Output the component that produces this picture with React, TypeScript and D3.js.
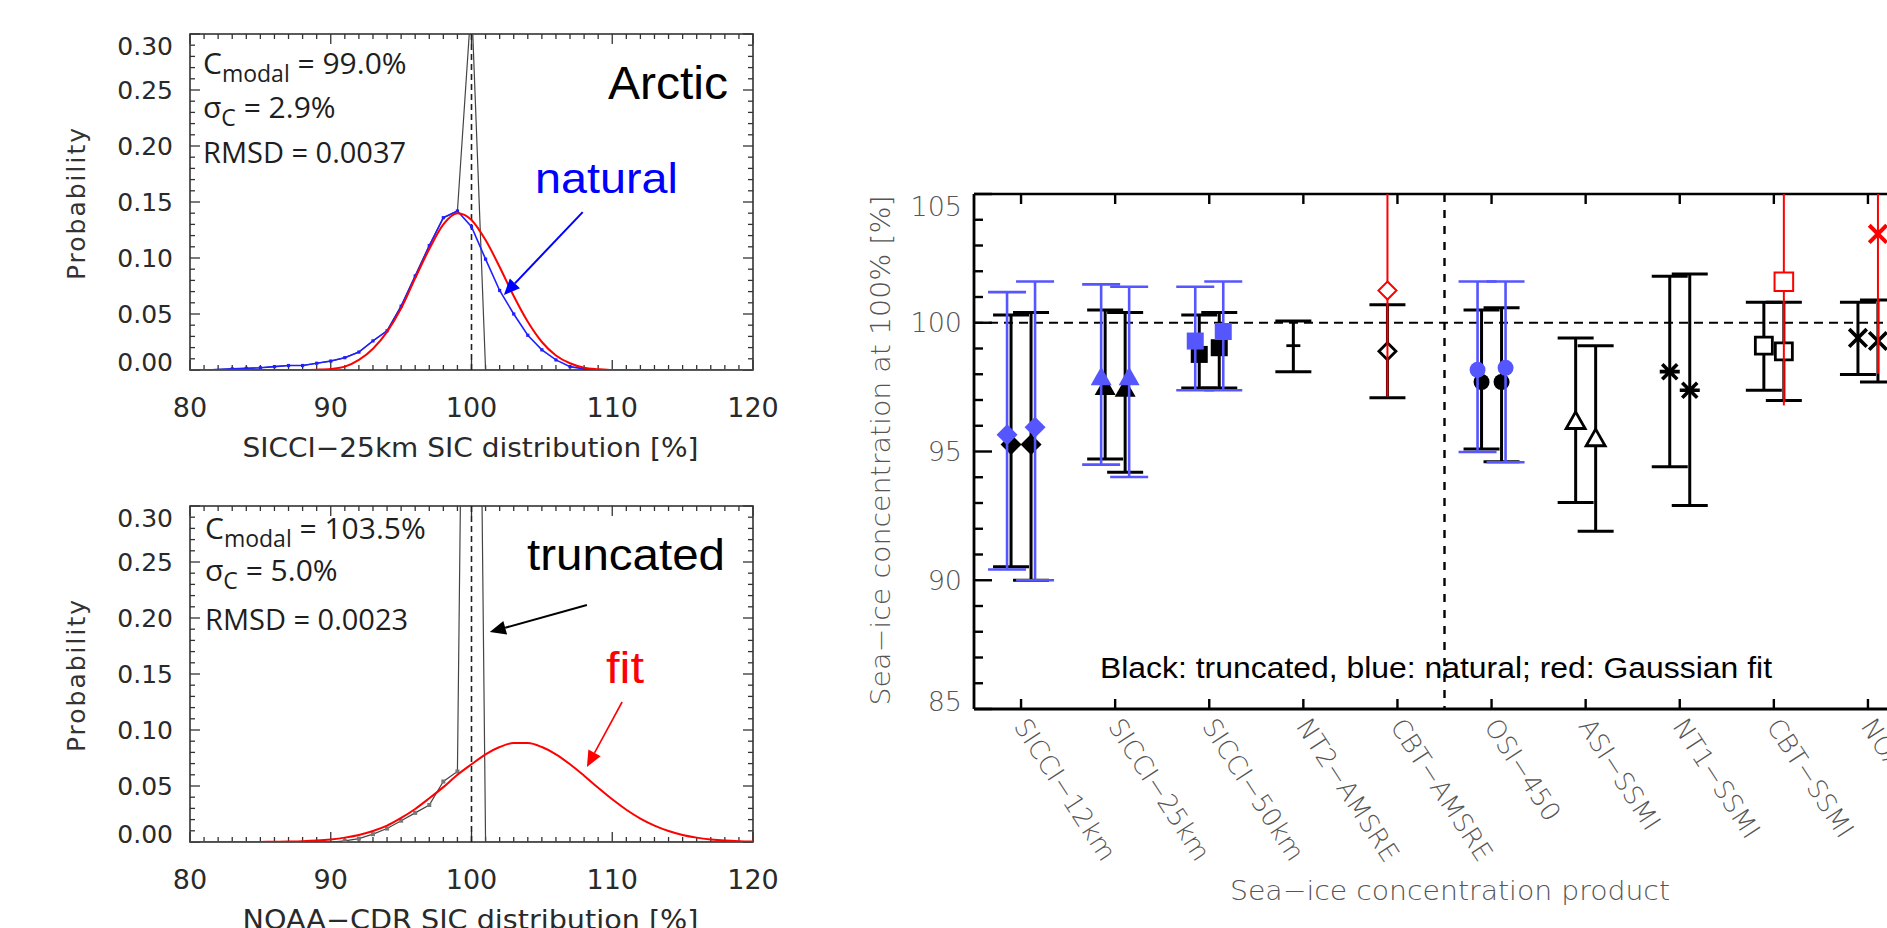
import React from 'react';
import * as d3 from 'd3';

// ---------------- Left panels: SIC distributions ----------------
const distX = [80, 81, 82, 83, 84, 85, 86, 87, 88, 89, 90, 91, 92, 93, 94, 95, 96, 97, 98, 99, 100,
  101, 102, 103, 104, 105, 106, 107, 108, 109, 110, 111, 112, 113, 114, 115, 116, 117, 118, 119, 120];

const arcticNatural = [0, 0, 0.0005, 0.001, 0.0015, 0.002, 0.003, 0.004, 0.004, 0.006,
  0.008, 0.011, 0.016, 0.026, 0.035, 0.057, 0.084, 0.111, 0.136, 0.142,
  0.128, 0.099, 0.071, 0.050, 0.031, 0.018, 0.009, 0.003, 0.001, 0,
  0, 0, 0, 0, 0, 0, 0, 0, 0, 0, 0];
const arcticFit = [0, 0, 0, 0, 0, 0, 0, 0, 0, 0.0003,
  0.001, 0.003, 0.009, 0.019, 0.034, 0.055, 0.082, 0.108, 0.130, 0.140,
  0.134, 0.116, 0.092, 0.066, 0.043, 0.025, 0.013, 0.006, 0.002, 0.0007,
  0, 0, 0, 0, 0, 0, 0, 0, 0, 0, 0];
const arcticTruncated = [0, 0, 0.0005, 0.001, 0.0015, 0.002, 0.003, 0.004, 0.004, 0.006,
  0.008, 0.011, 0.016, 0.026, 0.035, 0.057, 0.084, 0.111, 0.136, 0.142,
  0.33, 0, 0, 0, 0, 0, 0, 0, 0, 0,
  0, 0, 0, 0, 0, 0, 0, 0, 0, 0, 0];

const noaaFit = [0, 0, 0, 0, 0, 0.0001, 0.0002, 0.0004, 0.0007, 0.0013,
  0.0023, 0.0039, 0.0063, 0.0098, 0.0146, 0.0215, 0.0295, 0.039, 0.049, 0.060,
  0.0694, 0.0783, 0.0848, 0.0883, 0.0883, 0.0848, 0.0783, 0.0694, 0.0592, 0.0484,
  0.0381, 0.0288, 0.0209, 0.0146, 0.0098, 0.0063, 0.0039, 0.0023, 0.0013, 0.0007, 0.0004];
const noaaTruncated = [0, 0, 0, 0, 0, 0, 0, 0, 0, 0,
  0, 0.001, 0.003, 0.007, 0.012, 0.019, 0.026, 0.033, 0.054, 0.063,
  1.2, 0, 0, 0, 0, 0, 0, 0, 0, 0,
  0, 0, 0, 0, 0, 0, 0, 0, 0, 0, 0];

const xMajor = [80, 90, 100, 110, 120];
const yMajor = [0, 0.05, 0.10, 0.15, 0.20, 0.25, 0.30];
const yMajorLabels = ['0.00', '0.05', '0.10', '0.15', '0.20', '0.25', '0.30'];

// ---------------- Right panel: products ----------------
const products = ['SICCI−12km', 'SICCI−25km', 'SICCI−50km', 'NT2−AMSRE', 'CBT−AMSRE',
  'OSI−450', 'ASI−SSMI', 'NT1−SSMI', 'CBT−SSMI', 'NOAA−CDR'];
const productSymbols = ['diamond', 'triangle', 'square', 'dash', 'diamond',
  'circle', 'triangle', 'asterisk', 'square', 'cross'];
const productFilled = [true, true, true, false, false, true, false, false, false, false];

type N = number | null;
const blackLeftMid: N[] = [95.27, 97.50, 98.77, 99.11, 98.89, 97.70, 96.17, 98.10, 99.11, 99.41];
const blackLeftLow: N[] = [90.52, 94.71, 97.47, 98.10, 97.09, 95.10, 93.02, 94.41, 97.38, 97.99];
const blackLeftHigh: N[] = [100.30, 100.50, 100.30, 100.07, 100.70, 100.50, 99.41, 101.81, 100.80, 100.80];

const blackRightMid: N[] = [95.27, 97.43, 99.03, null, null, 97.70, 95.50, 97.38, 98.89, 99.29];
const blackRightLow: N[] = [90.00, 94.19, 97.47, null, null, 94.60, 91.90, 92.90, 96.98, 97.70];
const blackRightHigh: N[] = [100.40, 100.40, 100.40, null, null, 100.58, 99.11, 101.89, 100.80, 100.88];

const blueLeftMid: N[] = [95.65, 97.88, 99.29, null, null, 98.17, null, null, null, null];
const blueLeftLow: N[] = [90.42, 94.49, 97.38, null, null, 94.98, null, null, null, null];
const blueLeftHigh: N[] = [101.19, 101.49, 101.40, null, null, 101.60, null, null, null, null];

const blueRightMid: N[] = [95.94, 97.88, 99.66, null, null, 98.25, null, null, null, null];
const blueRightLow: N[] = [90.00, 94.01, 97.38, null, null, 94.58, null, null, null, null];
const blueRightHigh: N[] = [101.60, 101.40, 101.60, null, null, 101.60, null, null, null, null];

const redMid: N[] = [null, null, null, null, 101.25, null, null, null, 101.59, 103.45];
const redLow: N[] = [null, null, null, null, 97.13, null, null, null, 96.79, 98.02];
const redHigh: N[] = [null, null, null, null, 105.4, null, null, null, 106.4, 108.9];
const redSide = [0, 0, 0, 0, -1, 0, 0, 0, 1, 1];

const rightYTicks = [85, 90, 95, 100, 105];

const BLUE = '#5656ff';
const RED = '#ff0000';

function markerPath(type: string, s: number): string {
  switch (type) {
    case 'diamond': return `M0,${-s}L${s},0L0,${s}L${-s},0Z`;
    case 'triangle': return `M0,${-s}L${s},${s * 0.75}L${-s},${s * 0.75}Z`;
    case 'square': return `M${-s},${-s}H${s}V${s}H${-s}Z`;
    case 'asterisk': return `M${-s},0H${s}M${-s * 0.75},${-s * 0.75}L${s * 0.75},${s * 0.75}M${-s * 0.75},${s * 0.75}L${s * 0.75},${-s * 0.75}`;
    case 'cross': return `M${-s},${-s}L${s},${s}M${-s},${s}L${s},${-s}`;
    case 'dash': return `M${-s},0H${s}`;
    default: return '';
  }
}

function Marker({ type, filled, x, y, color, s, sw }: any) {
  if (type === 'circle') {
    return <circle cx={x} cy={y} r={s} fill={filled ? color : 'white'} stroke={color} strokeWidth={filled ? 0 : sw} />;
  }
  const open = !filled || type === 'asterisk' || type === 'cross' || type === 'dash';
  return (
    <path d={markerPath(type, s)} transform={`translate(${x},${y})`}
      fill={open ? (type === 'asterisk' || type === 'cross' || type === 'dash' ? 'none' : 'white') : color}
      stroke={color} strokeWidth={filled ? 0 : sw} strokeLinejoin="miter" />
  );
}

function Arrow({ x1, y1, x2, y2, color, w }: any) {
  const ang = Math.atan2(y2 - y1, x2 - x1);
  const L = 16, hw = 7;
  const bx = x2 - L * Math.cos(ang), by = y2 - L * Math.sin(ang);
  const p = [
    [x2, y2],
    [bx + hw * Math.sin(ang), by - hw * Math.cos(ang)],
    [bx - hw * Math.sin(ang), by + hw * Math.cos(ang)],
  ];
  return (
    <g>
      <line x1={x1} y1={y1} x2={bx} y2={by} stroke={color} strokeWidth={w} />
      <polygon points={p.map((q) => q.join(',')).join(' ')} fill={color} />
    </g>
  );
}

const LEFT = 190, RIGHT = 753, PH = 336;

function DistPanel({ top, id, curves, xTitle, children }: any) {
  const bottom = top + PH;
  const x = d3.scaleLinear().domain([80, 120]).range([LEFT, RIGHT]);
  const y = d3.scaleLinear().domain([0, 0.30]).range([bottom, top]);
  const minorX = d3.range(80, 121, 1);
  const minorY = d3.range(0, 0.3001, 0.01);
  const lin = d3.line<number>().x((_, i) => x(distX[i])).y((d) => y(d));
  const smooth = d3.line<number>().x((_, i) => x(distX[i])).y((d) => y(d)).curve(d3.curveMonotoneX);
  const axisColor = '#333';
  return (
    <g>
      <defs>
        <clipPath id={id}>
          <rect x={LEFT} y={top} width={RIGHT - LEFT} height={PH} />
        </clipPath>
      </defs>
      {minorX.map((v) => {
        const major = v % 10 === 0;
        const l = major ? 10 : 5;
        return (
          <g key={'mx' + v} stroke={axisColor} strokeWidth={1.3}>
            <line x1={x(v)} x2={x(v)} y1={bottom} y2={bottom - l} />
            <line x1={x(v)} x2={x(v)} y1={top} y2={top + l} />
          </g>
        );
      })}
      {minorY.map((v, i) => {
        const major = i % 5 === 0;
        const l = major ? 10 : 5;
        return (
          <g key={'my' + i} stroke={axisColor} strokeWidth={1.3}>
            <line x1={LEFT} x2={LEFT + l} y1={y(v)} y2={y(v)} />
            <line x1={RIGHT} x2={RIGHT - l} y1={y(v)} y2={y(v)} />
          </g>
        );
      })}
      <rect x={LEFT} y={top} width={RIGHT - LEFT} height={PH} fill="none" stroke={axisColor} strokeWidth={1.6} />
      {yMajor.map((v, i) => (
        <text key={'yl' + i} x={173} y={y(v) + (i === 0 ? -8 : i === yMajor.length - 1 ? 12 : 0)}
          textAnchor="end" dominantBaseline="central" fontFamily="DejaVu Sans" fontSize={25} fill="#2a2a2a">
          {yMajorLabels[i]}
        </text>
      ))}
      {xMajor.map((v) => (
        <text key={'xl' + v} x={x(v)} y={bottom + 37} textAnchor="middle" dominantBaseline="central"
          fontFamily="DejaVu Sans" fontSize={27} fill="#2a2a2a">{v}</text>
      ))}
      <text x={(LEFT + RIGHT) / 2 - 1} y={bottom + 87} textAnchor="middle" fontFamily="DejaVu Sans" fontSize={27}
        fill="#2a2a2a" textLength={456} lengthAdjust="spacingAndGlyphs">{xTitle}</text>
      <text transform={`translate(76,${top + 170}) rotate(-90)`} textAnchor="middle" dominantBaseline="central"
        fontFamily="DejaVu Sans" fontSize={25} fill="#333" textLength={152} lengthAdjust="spacing">Probability</text>
      <g clipPath={`url(#${id})`}>
        <line x1={x(100)} x2={x(100)} y1={bottom} y2={top} stroke="#222" strokeWidth={1.6} strokeDasharray="6,4" />
        {curves.trunc && (
          <path d={lin(curves.trunc) || ''} fill="none" stroke="#444" strokeWidth={1.2} />
        )}
        {curves.truncDots && curves.trunc.map((v: number, i: number) => (
          distX[i] >= 91 && distX[i] <= 99 ? <rect key={'td' + i} x={x(distX[i]) - 2} y={y(v) - 2} width={4} height={4} fill="#777" /> : null
        ))}
        {curves.natural && (
          <path d={lin(curves.natural) || ''} fill="none" stroke="#2020ff" strokeWidth={1.6} />
        )}
        {curves.natural && curves.natural.map((v: number, i: number) => (
          distX[i] >= 83 && distX[i] <= 108 ? <rect key={'nd' + i} x={x(distX[i]) - 1.6} y={y(v) - 1.6} width={3.2} height={3.2} fill="#2020ff" /> : null
        ))}
        <path d={smooth(curves.fit) || ''} fill="none" stroke={RED} strokeWidth={2} />
      </g>
      {children({ x, y })}
    </g>
  );
}

function Stats({ x0, b1, b2, b3, cm, sig, rmsd }: any) {
  const f = 'Open Sans, sans-serif';
  return (
    <g fontFamily={f} fill="#1e1e1e">
      <text x={x0} y={b1} fontSize={30}>C<tspan fontSize={23} dy={8}>modal</tspan><tspan dy={-8}> = {cm}</tspan></text>
      <text x={x0} y={b2} fontSize={30}>σ<tspan fontSize={23} dy={8}>C</tspan><tspan dy={-8}> = {sig}</tspan></text>
      <text x={x0} y={b3} fontSize={29}>RMSD = {rmsd}</text>
    </g>
  );
}

// ---------------- Right panel geometry ----------------
const RL = 974, RT = 194, RB = 709, STEP = 94.1;

function ErrBar({ x, lo, hi, mid, color, sw, cap, type, filled, ms, msw }: any) {
  return (
    <g>
      <line x1={x} x2={x} y1={lo} y2={hi} stroke={color} strokeWidth={sw} />
      <line x1={x - cap} x2={x + cap} y1={lo} y2={lo} stroke={color} strokeWidth={sw} />
      <line x1={x - cap} x2={x + cap} y1={hi} y2={hi} stroke={color} strokeWidth={sw} />
      <Marker type={type} filled={filled} x={x} y={mid} color={color} s={ms} sw={msw} />
    </g>
  );
}

function markerSize(type: string, filled: boolean) {
  switch (type) {
    case 'diamond': return filled ? 10.5 : 8.5;
    case 'triangle': return filled ? 10.5 : 9.5;
    case 'square': return 8.5;
    case 'circle': return 8;
    case 'asterisk': return 10;
    case 'cross': return 8.8;
    case 'dash': return 7;
    default: return 8;
  }
}

function RightPanel() {
  const xb = d3.scaleBand<string>().domain(products).range([RL, RL + STEP * products.length]);
  const y = d3.scaleLinear().domain([85, 105]).range([RB, RT]);
  const cx = (p: string) => (xb(p) as number) + xb.bandwidth() / 2;
  const RR = RL + STEP * products.length;
  const minorY = d3.range(85, 105.001, 1);
  const BO = 10, UO = 14;
  const sep = RL + STEP * 5;
  const tickFont = 'DejaVu Sans';

  const series = [
    { mid: blackLeftMid, lo: blackLeftLow, hi: blackLeftHigh, off: -BO, color: '#000', sw: 3, cap: 18 },
    { mid: blackRightMid, lo: blackRightLow, hi: blackRightHigh, off: BO, color: '#000', sw: 3, cap: 18 },
    { mid: blueLeftMid, lo: blueLeftLow, hi: blueLeftHigh, off: -UO, color: BLUE, sw: 2.6, cap: 19 },
    { mid: blueRightMid, lo: blueRightLow, hi: blueRightHigh, off: UO, color: BLUE, sw: 2.6, cap: 19 },
  ];

  return (
    <g>
      <defs>
        <clipPath id="rclip">
          <rect x={RL} y={RT} width={RR - RL} height={RB - RT} />
        </clipPath>
      </defs>
      {minorY.map((v) => {
        const major = Math.round(v) % 5 === 0;
        return <line key={'ry' + v} x1={RL} x2={RL + (major ? 18 : 9)} y1={y(v)} y2={y(v)} stroke="#000" strokeWidth={2.4} />;
      })}
      {products.map((p) => (
        <g key={'rt' + p} stroke="#000" strokeWidth={2.4}>
          <line x1={cx(p)} x2={cx(p)} y1={RB} y2={RB - 10} />
          <line x1={cx(p)} x2={cx(p)} y1={RT} y2={RT + 10} />
        </g>
      ))}
      <line x1={RL} x2={RR} y1={RT} y2={RT} stroke="#000" strokeWidth={2.6} />
      <line x1={RL} x2={RR} y1={RB} y2={RB} stroke="#000" strokeWidth={2.8} />
      <line x1={RL} x2={RL} y1={RT} y2={RB} stroke="#000" strokeWidth={2.8} />
      {rightYTicks.map((v, i) => (
        <text key={'ryl' + v} x={962} y={y(v) + (i === 0 ? -8 : i === rightYTicks.length - 1 ? 12 : 0)}
          textAnchor="end" dominantBaseline="central" fontFamily={tickFont} fontWeight={200} fontSize={27} fill="#555">
          {v}
        </text>
      ))}
      <text transform={`translate(880,${(RT + RB) / 2 - 1}) rotate(-90)`} textAnchor="middle" dominantBaseline="central"
        fontFamily={tickFont} fontWeight={200} fontSize={27} fill="#555" textLength={510} lengthAdjust="spacingAndGlyphs">
        Sea−ice concentration at 100% [%]
      </text>
      {products.map((p) => (
        <text key={'rl' + p} transform={`translate(${cx(p) - 8},${RB + 17}) rotate(57)`} fontFamily={tickFont}
          fontWeight={200} fontSize={26} fill="#555">{p}</text>
      ))}
      <text x={1450} y={900} textAnchor="middle" fontFamily={tickFont} fontWeight={200} fontSize={27} fill="#555"
        textLength={440} lengthAdjust="spacingAndGlyphs">Sea−ice concentration product</text>

      <g clipPath="url(#rclip)">
        <line x1={RL} x2={RR} y1={y(100)} y2={y(100)} stroke="#000" strokeWidth={2} strokeDasharray="9,6" />
        <line x1={sep} x2={sep} y1={RT} y2={RB} stroke="#000" strokeWidth={2.4} strokeDasharray="8,8" />
        {series.map((s, si) => products.map((p, i) => {
          if (s.mid[i] === null) return null;
          const type = productSymbols[i];
          const filled = productFilled[i];
          return (
            <ErrBar key={si + '-' + i} x={cx(p) + s.off} lo={y(s.lo[i] as number)} hi={y(s.hi[i] as number)}
              mid={y(s.mid[i] as number)} color={s.color} sw={s.sw} cap={s.cap}
              type={type} filled={filled} ms={markerSize(type, filled)} msw={type === 'cross' || type === 'asterisk' ? 3.6 : 2.8} />
          );
        }))}
        {products.map((p, i) => {
          if (redMid[i] === null) return null;
          const xx = cx(p) + redSide[i] * BO;
          const type = productSymbols[i];
          return (
            <g key={'red' + i}>
              <line x1={xx} x2={xx} y1={y(redLow[i] as number)} y2={y(redHigh[i] as number)} stroke={RED} strokeWidth={2} />
              <Marker type={type} filled={false} x={xx} y={y(redMid[i] as number)} color={RED}
                s={type === 'square' ? 9.3 : type === 'diamond' ? 9 : 8.7} sw={type === 'cross' ? 4 : 2} />
            </g>
          );
        })}
      </g>
      <text x={1100} y={678} fontFamily="Liberation Sans, Arial, sans-serif" fontSize={30} fill="#000"
        textLength={672} lengthAdjust="spacingAndGlyphs">
        Black: truncated, blue: natural; red: Gaussian fit
      </text>
    </g>
  );
}

export default function App() {
  return (
    <svg width={1887} height={928} viewBox="0 0 1887 928"
      style={{ position: 'absolute', left: 0, top: 0, background: '#fff' }}>
      <rect x={0} y={0} width={1887} height={928} fill="#fff" />
      <DistPanel top={34} id="p1clip" xTitle="SICCI−25km SIC distribution [%]"
        curves={{ natural: arcticNatural, fit: arcticFit, trunc: arcticTruncated }}>
        {({ x, y }: any) => (
          <g>
            <Stats x0={203} b1={74} b2={118} b3={163} cm="99.0%" sig="2.9%" rmsd="0.0037" />
            <text x={608} y={99} fontFamily="Liberation Sans, Arial, sans-serif" fontSize={46} fill="#000"
              textLength={120} lengthAdjust="spacingAndGlyphs">Arctic</text>
            <text x={535} y={193} fontFamily="Liberation Sans, Arial, sans-serif" fontSize={42} fill="#0000ff"
              textLength={143} lengthAdjust="spacingAndGlyphs">natural</text>
            <Arrow x1={x(107.9)} y1={y(0.141)} x2={x(102.3)} y2={y(0.067)} color="#0000ff" w={2} />
          </g>
        )}
      </DistPanel>
      <DistPanel top={506} id="p2clip" xTitle="NOAA−CDR SIC distribution [%]"
        curves={{ fit: noaaFit, trunc: noaaTruncated, truncDots: true }}>
        {({ x, y }: any) => (
          <g>
            <Stats x0={205} b1={539} b2={581} b3={630} cm="103.5%" sig="5.0%" rmsd="0.0023" />
            <text x={527} y={570} fontFamily="Liberation Sans, Arial, sans-serif" fontSize={44} fill="#000"
              textLength={198} lengthAdjust="spacingAndGlyphs">truncated</text>
            <text x={606} y={683} fontFamily="Liberation Sans, Arial, sans-serif" fontSize={44} fill="#ff0000"
              textLength={38} lengthAdjust="spacingAndGlyphs">fit</text>
            <Arrow x1={x(108.2)} y1={y(0.2116)} x2={x(101.3)} y2={y(0.1875)} color="#000" w={2} />
            <Arrow x1={x(110.7)} y1={y(0.125)} x2={x(108.2)} y2={y(0.067)} color="#ff0000" w={1.6} />
          </g>
        )}
      </DistPanel>
      <RightPanel />
    </svg>
  );
}
